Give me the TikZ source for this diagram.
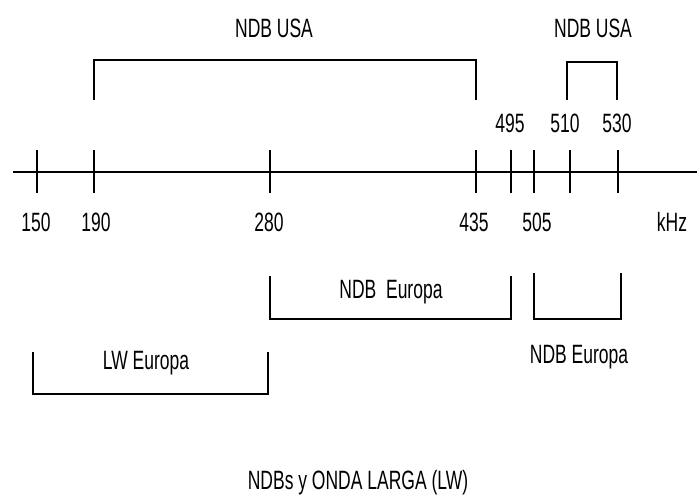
\documentclass[tikz,border=0pt]{standalone}
\usepackage{fontspec}
\setmainfont{Liberation Sans}[FakeStretch=0.66]
\begin{document}
\begin{tikzpicture}[x=1pt,y=-1pt,
  ln/.style={line width=1.2pt,black},
  lbl/.style={font=\fontsize{26.5}{26.5}\selectfont,inner sep=0pt,anchor=center}]
\useasboundingbox (0,0) rectangle (697,495);
% axis
\coordinate (axL) at (13,172);
\coordinate (axR) at (697,172);
\draw[ln] (axL) -- (axR);
% ticks
\foreach \n/\x in {t150/37,t190/94,t280/270,t435/476,t495/511,t505/534,t510/570,t530/618}{
  \coordinate (\n top) at (\x,150);
  \coordinate (\n bot) at (\x,193);
  \draw[ln] (\n top) -- (\n bot);
}
% tick labels below
\node[lbl] (l150) at (36,222) {150};
\node[lbl] (l190) at (96,222) {190};
\node[lbl] (l280) at (269,222) {280};
\node[lbl] (l435) at (474,222) {435};
\node[lbl] (l505) at (537,222) {505};
\node[lbl] (lkhz) at (672,222) {kHz};
% tick labels above
\node[lbl] (l495) at (510,123) {495};
\node[lbl] (l510) at (565,123) {510};
\node[lbl] (l530) at (617,123) {530};
% upper brackets
\coordinate (ua1) at (94,100); \coordinate (ua2) at (94,60);
\coordinate (ua3) at (476,60); \coordinate (ua4) at (476,100);
\draw[ln] (ua1) -- (ua2) -- (ua3) -- (ua4);
\node[lbl] (usa1) at (274,28) {NDB USA};
\coordinate (ub1) at (567,100); \coordinate (ub2) at (567,62);
\coordinate (ub3) at (617,62); \coordinate (ub4) at (617,100);
\draw[ln] (ub1) -- (ub2) -- (ub3) -- (ub4);
\node[lbl] (usa2) at (593,28) {NDB USA};
% lower brackets
\coordinate (la1) at (270,276); \coordinate (la2) at (270,319);
\coordinate (la3) at (511,319); \coordinate (la4) at (511,276);
\draw[ln] (la1) -- (la2) -- (la3) -- (la4);
\node[lbl] (eu1) at (391,292) {NDB\ \ Europa};
\coordinate (lb1) at (534,273); \coordinate (lb2) at (534,319);
\coordinate (lb3) at (621,319); \coordinate (lb4) at (621,273);
\draw[ln] (lb1) -- (lb2) -- (lb3) -- (lb4);
\node[lbl] (eu2) at (579,357) {NDB Europa};
\coordinate (lc1) at (33,352); \coordinate (lc2) at (33,394);
\coordinate (lc3) at (268,394); \coordinate (lc4) at (268,352);
\draw[ln] (lc1) -- (lc2) -- (lc3) -- (lc4);
\node[lbl] (lw) at (146,363) {LW Europa};
% title
\node[lbl] (title) at (358,483) {NDBs y ONDA LARGA (LW)};
\end{tikzpicture}
\end{document}
